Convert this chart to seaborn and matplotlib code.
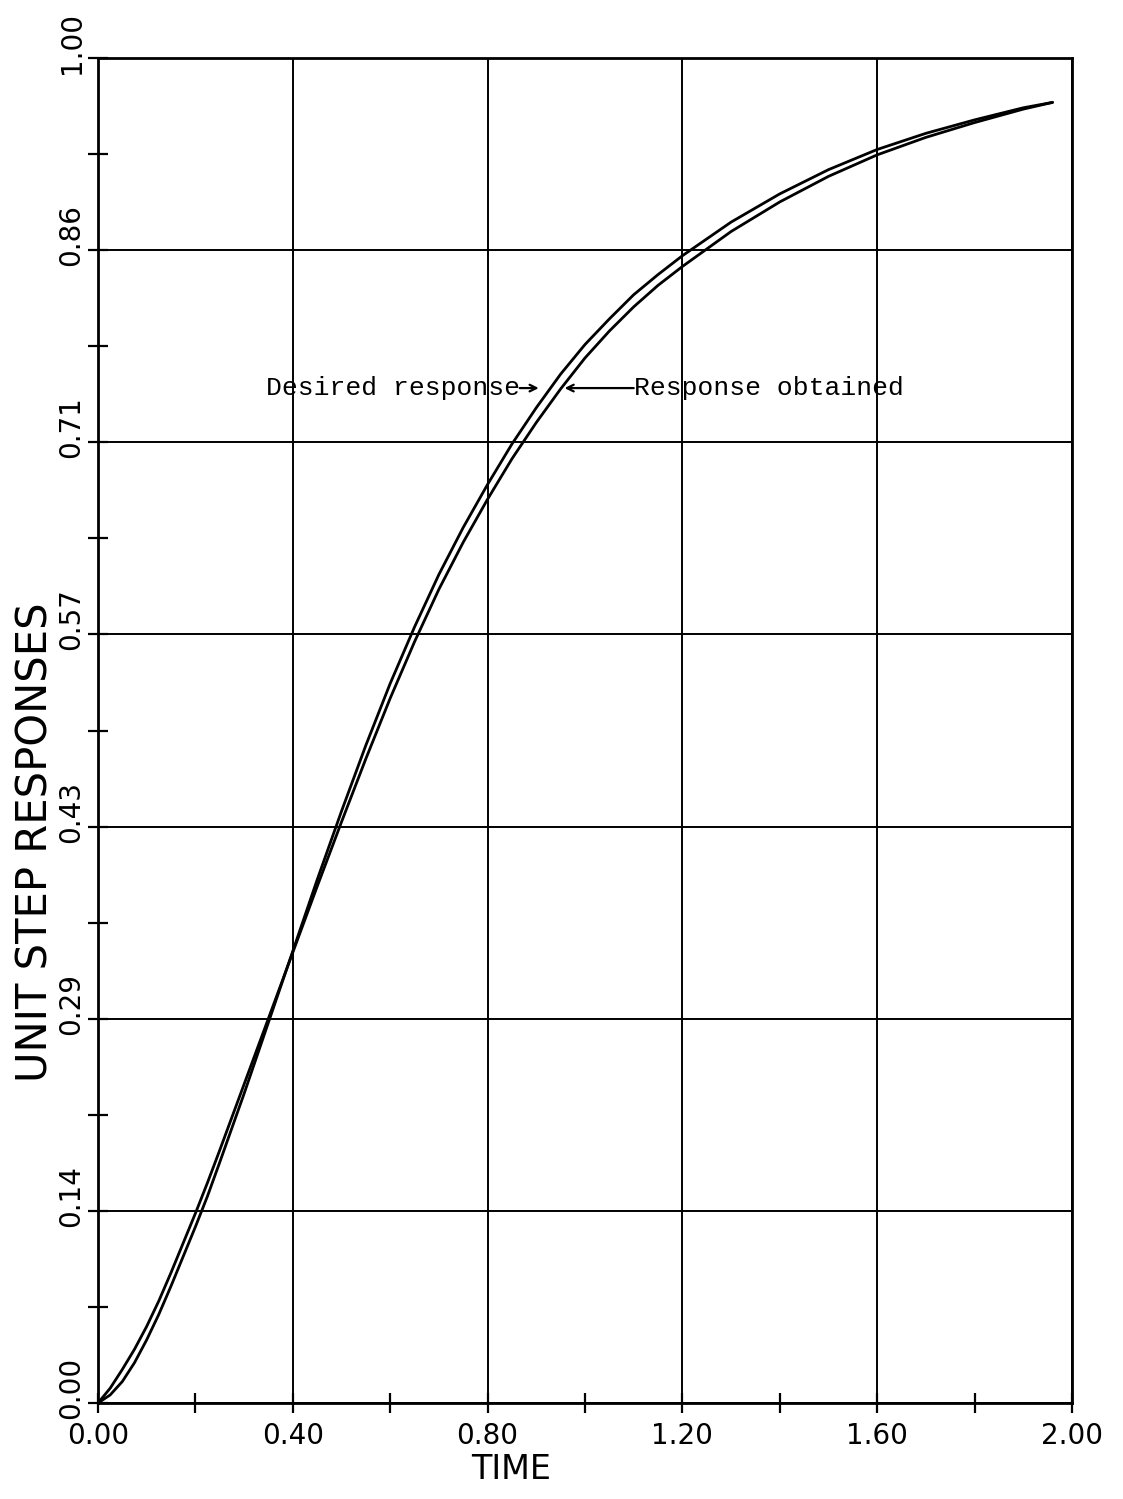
import numpy as np
import pandas as pd
import matplotlib
matplotlib.use("Agg")
import matplotlib.pyplot as plt
import seaborn as sns
from matplotlib.transforms import ScaledTranslation

# ---- data ----
time = [0.000, 0.025, 0.050, 0.075, 0.100, 0.125, 0.150, 0.175, 0.200, 0.225,
        0.25, 0.30, 0.35, 0.40, 0.45, 0.50, 0.55, 0.60, 0.65, 0.70, 0.75, 0.80,
        0.85, 0.90, 0.95, 1.00, 1.05, 1.10, 1.15, 1.20, 1.30, 1.40, 1.50, 1.60,
        1.70, 1.80, 1.90, 1.96]
desired = [0.000, 0.006, 0.016, 0.030, 0.047, 0.066, 0.087, 0.109, 0.131, 0.154,
           0.179, 0.230, 0.283, 0.336, 0.389, 0.440, 0.489, 0.535, 0.577, 0.616,
           0.651, 0.683, 0.713, 0.740, 0.765, 0.787, 0.806, 0.824, 0.839, 0.853,
           0.878, 0.899, 0.917, 0.932, 0.944, 0.954, 0.963, 0.967]
obtained = [0.000, 0.011, 0.025, 0.040, 0.057, 0.076, 0.097, 0.119, 0.141, 0.164,
            0.188, 0.237, 0.286, 0.335, 0.384, 0.432, 0.479, 0.524, 0.566, 0.605,
            0.640, 0.672, 0.702, 0.729, 0.754, 0.777, 0.797, 0.815, 0.831, 0.845,
            0.871, 0.893, 0.912, 0.928, 0.941, 0.952, 0.962, 0.967]

x_ticks = [0.0, 0.4, 0.8, 1.2, 1.6, 2.0]
x_tick_labels = ["0.00", "0.40", "0.80", "1.20", "1.60", "2.00"]
x_minor = [0.2, 0.6, 1.0, 1.4, 1.8]
y_ticks = [0/7, 1/7, 2/7, 3/7, 4/7, 5/7, 6/7, 7/7]
y_tick_labels = ["0.00", "0.14", "0.29", "0.43", "0.57", "0.71", "0.86", "1.00"]
y_minor = [1/14, 3/14, 5/14, 7/14, 9/14, 11/14, 13/14]

# ---- style ----
sns.set_theme(style="white")
plt.rcParams["font.family"] = ["DejaVu Sans"]
plt.rcParams["text.color"] = "black"
plt.rcParams["axes.labelcolor"] = "black"
plt.rcParams["xtick.color"] = "black"
plt.rcParams["ytick.color"] = "black"
plt.rcParams["lines.solid_joinstyle"] = "round"

fig = plt.figure(figsize=(11.23, 14.99), dpi=100)
ax = fig.add_axes([0.08727, 0.06404, 0.86732, 0.89726])

df = pd.DataFrame({
    "TIME": time + time,
    "value": desired + obtained,
    "curve": ["Desired response"] * len(time) + ["Response obtained"] * len(time),
})
sns.lineplot(data=df, x="TIME", y="value", hue="curve",
             palette=["black", "black"], linewidth=2.0, legend=False,
             estimator=None, sort=False, ax=ax)

ax.set_xlim(0, 2.0)
ax.set_ylim(0, 1.0)

ax.set_xticks(x_ticks)
ax.set_xticklabels(x_tick_labels, fontsize=20, color="black")
ax.set_xticks(x_minor, minor=True)
ax.set_yticks(y_ticks)
ax.set_yticklabels(y_tick_labels, fontsize=20, rotation=90, va="center",
                   ha="right", color="black")
ax.set_yticks(y_minor, minor=True)

ax.grid(True, which="major", color="black", linewidth=1.4)
ax.tick_params(which="both", direction="inout", length=14, width=1.6,
               color="black", labelcolor="black",
               left=True, bottom=True, top=False, right=False)
ax.tick_params(axis="x", which="major", pad=7)
ax.tick_params(axis="y", which="major", pad=2)

for lab in ax.get_yticklabels():
    lab.set_transform(lab.get_transform() +
                      ScaledTranslation(0, 0.15, fig.dpi_scale_trans))

for s in ax.spines.values():
    s.set_color("black")
    s.set_linewidth(2.0)
    s.set_visible(True)

ax.set_xlabel("TIME", fontsize=24, va="center", color="black")
ax.xaxis.set_label_coords(0.424, -0.0495)
ax.set_ylabel("UNIT STEP RESPONSES", fontsize=30, va="center", color="black")
ax.yaxis.set_label_coords(-0.064, 0.417)

# annotations
mono = ["Liberation Mono", "DejaVu Sans Mono"]
ax.text(0.866, 0.7546, "Desired response", ha="right", va="center",
        family=mono, fontsize=19, color="black")
ax.annotate("", xy=(0.905, 0.7546), xytext=(0.866, 0.7546),
            arrowprops=dict(arrowstyle="->", lw=1.6, color="black",
                            shrinkA=0, shrinkB=0))
ax.annotate("", xy=(0.958, 0.7546), xytext=(1.100, 0.7546),
            arrowprops=dict(arrowstyle="->", lw=1.6, color="black",
                            shrinkA=0, shrinkB=0))
ax.text(1.100, 0.7546, "Response obtained", ha="left", va="center",
        family=mono, fontsize=19, color="black")

fig.savefig("out.png", dpi=100, facecolor="white")
